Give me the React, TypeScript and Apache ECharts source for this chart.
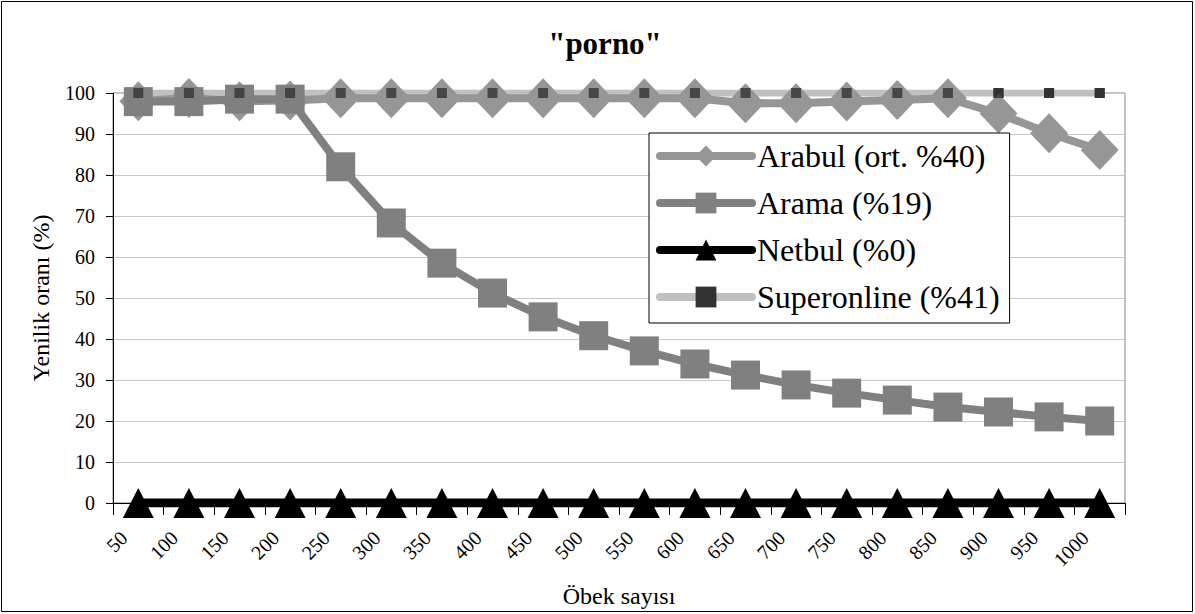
import React, { useEffect, useRef } from "react";
import * as echarts from "echarts";

const categories = ["50", "100", "150", "200", "250", "300", "350", "400", "450", "500", "550", "600", "650", "700", "750", "800", "850", "900", "950", "1000"];
const arabul = [98, 98.8, 98, 98.2, 98.7, 98.7, 98.7, 98.7, 98.7, 98.7, 98.7, 98.7, 97.5, 97.5, 97.9, 98.3, 98.7, 95, 90.2, 86.1];
const arama = [97.9, 97.9, 98.5, 98.5, 82, 68.3, 58.5, 51.2, 45.4, 40.8, 37.1, 33.9, 31.2, 28.8, 26.8, 25.1, 23.4, 22.2, 21, 20];
const netbul = [0, 0, 0, 0, 0, 0, 0, 0, 0, 0, 0, 0, 0, 0, 0, 0, 0, 0, 0, 0];
const superonline = [100, 100, 100, 100, 100, 100, 100, 100, 100, 100, 100, 100, 100, 100, 100, 100, 100, 100, 100, 100];
const seriesNames = ["Arabul (ort. %40)", "Arama (%19)", "Netbul (%0)", "Superonline (%41)"];

const FONT = "Liberation Serif";

export default function App() {
  const ref = useRef<HTMLDivElement>(null);
  useEffect(() => {
    document.body.style.margin = "0";
    const chart = echarts.init(ref.current!, null, { renderer: "svg" });
    chart.setOption({
      animation: false,
      backgroundColor: "#ffffff",
      textStyle: { fontFamily: FONT },
      graphic: [
        {
          type: "rect",
          z: 100,
          silent: true,
          shape: { x: 1.5, y: 1.5, width: 1191, height: 610 },
          style: { fill: "none", stroke: "#000000", lineWidth: 1 },
        },
      ],
      title: {
        text: '"porno"',
        left: 600,
        textAlign: "center",
        top: 23,
        textStyle: { fontFamily: FONT, fontSize: 31, fontWeight: "bold", color: "#000" },
      },
      grid: {
        left: 113,
        right: 70,
        top: 93,
        bottom: 111,
        show: true,
        borderColor: "#808080",
        borderWidth: 1,
        backgroundColor: "#ffffff",
      },
      legend: {
        data: seriesNames,
        orient: "vertical",
        left: 649,
        top: 133,
        padding: [7, 10, 10, 7],
        itemWidth: 92,
        itemHeight: 26,
        itemGap: 15,
        backgroundColor: "#ffffff",
        borderColor: "#000000",
        borderWidth: 1,
        borderRadius: 0,
        lineStyle: { width: 8, cap: "round" },
        textStyle: { fontFamily: FONT, fontSize: 32, color: "#000" },
      },
      xAxis: {
        type: "category",
        data: categories,
        boundaryGap: true,
        name: "Öbek sayısı",
        nameLocation: "middle",
        nameGap: 76,
        nameTextStyle: { fontFamily: FONT, fontSize: 24, color: "#000" },
        axisLine: { lineStyle: { color: "#000", width: 1 } },
        axisTick: { show: true, length: 12, lineStyle: { color: "#000" } },
        axisLabel: {
          rotate: 45,
          fontFamily: FONT,
          fontSize: 20,
          color: "#000",
          margin: 46,
          interval: 0,
          align: "right",
          verticalAlign: "bottom",
          lineHeight: 41,
        },
        splitLine: { show: false },
      },
      yAxis: {
        type: "value",
        min: 0,
        max: 100,
        interval: 10,
        name: "Yenilik oranı (%)",
        nameLocation: "middle",
        nameGap: 60,
        nameTextStyle: { fontFamily: FONT, fontSize: 24, color: "#000" },
        axisLine: { show: true, lineStyle: { color: "#000", width: 1 } },
        axisTick: { show: true, length: 7, lineStyle: { color: "#000" } },
        axisLabel: { fontFamily: FONT, fontSize: 20, color: "#000", margin: 18 },
        splitLine: { show: true, lineStyle: { color: "#c8c8c8", width: 1 } },
      },
      series: [
        {
          name: seriesNames[3],
          type: "line",
          data: superonline,
          z: 1,
          symbol: "rect",
          symbolSize: 10,
          lineStyle: { color: "#c0c0c0", width: 7 },
          itemStyle: { color: "#333333" },
        },
        {
          name: seriesNames[0],
          type: "line",
          data: arabul,
          z: 2,
          symbol: "diamond",
          symbolSize: [38, 40],
          lineStyle: { color: "#969696", width: 8 },
          itemStyle: { color: "#969696" },
        },
        {
          name: seriesNames[1],
          type: "line",
          data: arama,
          z: 3,
          symbol: "rect",
          symbolSize: 29,
          lineStyle: { color: "#808080", width: 8 },
          itemStyle: { color: "#808080" },
        },
        {
          name: seriesNames[2],
          type: "line",
          data: netbul,
          z: 3,
          symbol: "triangle",
          symbolSize: [31, 30],
          lineStyle: { color: "#000000", width: 9 },
          itemStyle: { color: "#000000" },
        },
        {
          name: "superonline-markers",
          type: "scatter",
          data: superonline,
          z: 4,
          symbol: "rect",
          symbolSize: 10,
          itemStyle: { color: "#333333" },
        },
      ],
    });
    return () => chart.dispose();
  }, []);
  return <div ref={ref} style={{ width: 1195, height: 614 }} />;
}
